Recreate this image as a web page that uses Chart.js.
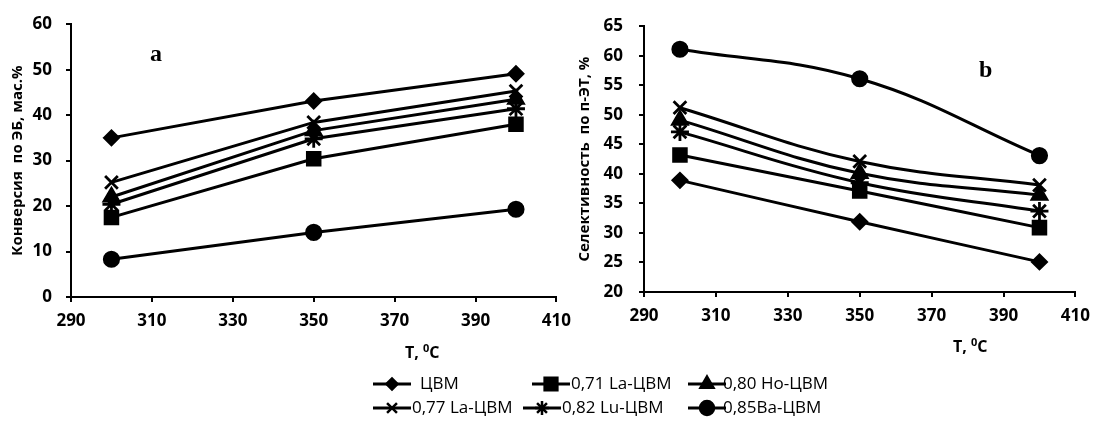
<!DOCTYPE html>
<html>
<head>
<meta charset="utf-8">
<script src="https://cdn.jsdelivr.net/npm/chart.js@4.4.0/dist/chart.umd.min.js"></script>
<style>
body { margin:0; background:#fff; width:1099px; height:424px; position:relative; overflow:hidden; }
#boxA { position:absolute; left:0; top:0; width:580px; height:345px; }
#boxB { position:absolute; left:560px; top:0; width:539px; height:345px; }
.tlabel { position:absolute; font: bold 16px "Open Sans"; color:#000; white-space:nowrap; }
.tlabel sup { font-size:11px; }
.panel { position:absolute; font: bold 24px "Liberation Serif"; color:#000; }
.leg-line { position:absolute; }
.leg-text { position:absolute; font: 17px "Open Sans"; color:#000; white-space:nowrap; line-height:20px; }
</style>
</head>
<body>
<div id="boxA"><canvas id="chartA"></canvas></div>
<div id="boxB"><canvas id="chartB"></canvas></div>
<div class="panel" style="left:150px; top:40px;">a</div>
<div class="panel" style="left:979px; top:56px;">b</div>
<div class="tlabel" style="left:405px; top:340px;">T, <sup>0</sup>C</div>
<div class="tlabel" style="left:953px; top:334px;">T, <sup>0</sup>C</div>
<div id="legend"></div>
<script>
const temps = [300, 350, 400];
const seriesNames = ['ЦВМ', '0,71 La-ЦВМ', '0,80 Ho-ЦВМ', '0,77 La-ЦВМ', '0,82 Lu-ЦВМ', '0,85Ba-ЦВМ'];

// a: конверсия по ЭБ, мас.%
const convZVM  = [35, 43.1, 49.1];
const convLa71 = [17.5, 30.4, 38];
const convHo80 = [22, 36.6, 43.5];
const convLa77 = [25.2, 38.4, 45.3];
const convLu82 = [20.4, 34.8, 41.4];
const convBa85 = [8.3, 14.2, 19.3];

// b: селективность по п-ЭТ, %
const selZVM  = [38.9, 31.9, 25.1];
const selLa71 = [43.2, 37.1, 30.9];
const selHo80 = [49.1, 40.1, 36.4];
const selLa77 = [51.2, 42.1, 38.1];
const selLu82 = [47.1, 38.5, 33.7];
const selBa85 = [61.1, 56.1, 43.1];

const xTicks = [290, 310, 330, 350, 370, 390, 410];

const markers = ['rectRot', 'rect', 'triangle', 'crossRot', 'star', 'circle'];
const markerSize = [7, 9, 8.5, 9, 9, 7.2];

function makeSets(list, tension) {
  return list.map((vals, i) => ({
    label: seriesNames[i],
    data: vals.map((v, j) => ({x: temps[j], y: v})),
    borderColor: '#000',
    backgroundColor: '#000',
    borderWidth: 3,
    pointStyle: markers[i],
    pointRadius: markerSize[i],
    pointBorderWidth: 2.8,
    tension: tension
  }));
}

const tickFont = {family: 'Open Sans', weight: 'bold', size: 17};

function makeOptions(o) {
  return {
    responsive: true,
    maintainAspectRatio: false,
    animation: false,
    layout: {padding: {left: 0, top: 23, right: o.right, bottom: 0}},
    plugins: {legend: {display: false}, tooltip: {enabled: false}},
    scales: {
      x: {
        type: 'linear',
        min: 290, max: 410,
        afterBuildTicks: s => { s.ticks = xTicks.map(v => ({value: v})); },
        afterFit: s => { s.height = o.xh; },
        grid: {drawOnChartArea: false, drawTicks: true, tickLength: 5, color: '#000', lineWidth: 2},
        border: {color: '#000', width: 2},
        ticks: {color: '#000', font: tickFont, padding: 9, maxRotation: 0}
      },
      y: {
        min: o.ymin, max: o.ymax,
        ticks: {stepSize: o.step, color: '#000', font: tickFont, padding: o.ypad},
        afterFit: s => { s.width = o.yw; },
        grid: {drawOnChartArea: false, drawTicks: true, tickLength: 5, color: '#000', lineWidth: 2},
        border: {color: '#000', width: 2},
        title: {display: true, text: o.title, color: '#000',
                font: {family: 'Open Sans', weight: 'bold', size: 15}, padding: {top: o.tpad, bottom: 0}}
      }
    }
  };
}

new Chart(document.getElementById('chartA'), {
  type: 'line',
  data: {datasets: makeSets([convZVM, convLa71, convHo80, convLa77, convLu82, convBa85], 0)},
  options: makeOptions({right: 23, xh: 48, yw: 71, ymin: 0, ymax: 60, step: 10, ypad: 14, tpad: 9,
                        title: 'Конверсия  по ЭБ, мас.%'})
});

new Chart(document.getElementById('chartB'), {
  type: 'line',
  data: {datasets: makeSets([selZVM, selLa71, selHo80, selLa77, selLu82, selBa85], 0.4)},
  options: makeOptions({right: 17, xh: 53, yw: 84, ymin: 20, ymax: 65, step: 5, ypad: 16, tpad: 16,
                        title: 'Селективность  по п-ЭТ, %'})
});

// legend (two rows, laid out like the original)
const legPos = [
  {lx: 373, tx: 420, y: 384}, {lx: 532, tx: 571, y: 384}, {lx: 688, tx: 723, y: 384},
  {lx: 373, tx: 412, y: 408}, {lx: 523, tx: 562, y: 408}, {lx: 688, tx: 723, y: 408}
];
const legSize = [5.5, 9, 7.5, 7, 7, 7];
const legend = document.getElementById('legend');
seriesNames.forEach((name, i) => {
  const p = legPos[i];
  const c = document.createElement('canvas');
  c.width = 38; c.height = 20;
  c.className = 'leg-line';
  c.style.left = p.lx + 'px';
  c.style.top = (p.y - 10) + 'px';
  legend.appendChild(c);
  const ctx = c.getContext('2d');
  ctx.strokeStyle = '#000';
  ctx.fillStyle = '#000';
  ctx.lineWidth = 3;
  ctx.beginPath();
  ctx.moveTo(0, 10);
  ctx.lineTo(38, 10);
  ctx.stroke();
  ctx.lineWidth = 2.5;
  Chart.helpers.drawPoint(ctx, {pointStyle: markers[i], radius: legSize[i], borderWidth: 2.5, rotation: 0}, 19, 10);
  const t = document.createElement('div');
  t.className = 'leg-text';
  t.textContent = name;
  t.style.left = p.tx + 'px';
  t.style.top = (p.y - 11) + 'px';
  legend.appendChild(t);
});
</script>
</body>
</html>
